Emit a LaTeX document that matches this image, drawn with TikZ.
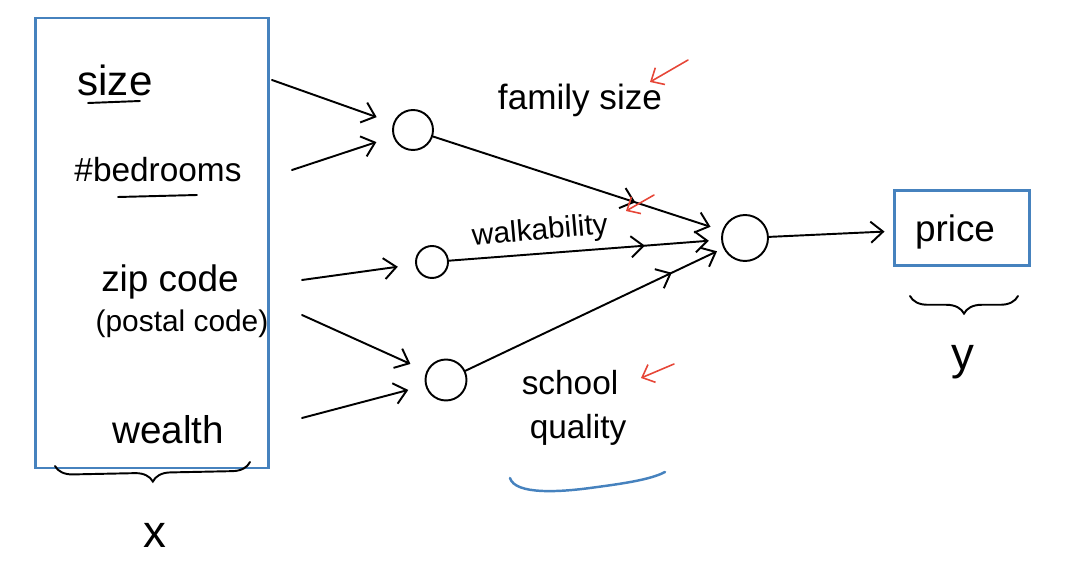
\documentclass[tikz,border=0pt]{standalone}
\usepackage{fontspec}
\setmainfont{Liberation Sans}
\usetikzlibrary{arrows.meta,decorations.pathreplacing,decorations.markings}
\definecolor{penblue}{RGB}{70,130,190}
\definecolor{penred}{RGB}{230,70,55}
\begin{document}
\begin{tikzpicture}[x=0.02cm, y=-0.02cm, line width=1.1pt, line cap=round,
    hand/.style={font=\fontsize{20}{24}\selectfont, inner sep=1pt},
    unit/.style={circle, draw, line width=1.1pt, inner sep=0pt},
    wire/.style={-{Straight Barb[length=7pt,width=12pt]}},
    midtip/.style={postaction={decorate}, decoration={markings,
        mark=at position #1 with {\arrow{Straight Barb[length=7pt,width=12pt]}}}},
    note/.style={penred, line width=0.9pt, -{Straight Barb[length=6pt,width=11pt]}},
    curly/.style={decorate, decoration={brace, mirror, amplitude=#1}},
    curly/.default=8pt]
    \useasboundingbox (0,0) rectangle (1082,577);

    % input features
    \node[draw=penblue, line width=1.4pt, minimum width=4.66cm, minimum height=9cm] (inputs) at (152,243) {};
    \node[hand, font=\fontsize{24}{28}\selectfont] (size) at (115,80) {size};
    \node[hand, font=\fontsize{19}{23}\selectfont] (bed) at (158,170) {\#bedrooms};
    \node[hand, font=\fontsize{21}{25}\selectfont] (zip) at (170,282) {zip code};
    \node[hand, font=\fontsize{17}{20}\selectfont] (postal) at (182,324) {(postal code)};
    \node[hand, font=\fontsize{22}{26}\selectfont] (wealth) at (168,430) {wealth};
    \draw (88,103) -- (140,101);
    \draw (118,197) -- (197,195);
    \draw[curly=10pt] (55,466) -- (250,462);
    \node[hand, font=\fontsize{26}{30}\selectfont] (xlab) at (155,535) {x};

    % hidden units
    \node[unit, minimum size=0.8cm] (h1) at (413,130) {};
    \node[unit, minimum size=0.64cm] (h2) at (432,262) {};
    \node[unit, minimum size=0.82cm] (h3) at (446,380) {};
    \node[unit, minimum size=0.92cm] (out) at (745,238) {};

    % output
    \node[draw=penblue, line width=1.4pt, minimum width=2.7cm, minimum height=1.5cm] (price) at (962,228) {};
    \node[hand, font=\fontsize{21}{25}\selectfont] (ptext) at (955,232) {price};
    \draw[curly=10pt] (910,296) -- (1018,296);
    \node[hand, font=\fontsize{26}{30}\selectfont] (ylab) at (963,362) {y};

    % arrows into the hidden units
    \coordinate (s1) at (272,80);
    \coordinate (s2) at (292,170);
    \coordinate (s3) at (302,280);
    \coordinate (s4) at (302,315);
    \coordinate (s5) at (302,418);
    \draw[wire, shorten >=10pt] (s1) -- (h1);
    \draw[wire, shorten >=10pt] (s2) -- (h1);
    \draw[wire, shorten >=10pt] (s3) -- (h2);
    \draw[wire, shorten >=10pt] (s4) -- (h3);
    \draw[wire, shorten >=10pt] (s5) -- (h3);

    % hidden units to output
    \draw[wire, midtip=0.7, shorten >=7pt] (h1) -- (out);
    \draw[wire, midtip=0.72, shorten >=7pt] (h2) -- (out);
    \draw[wire, midtip=0.8, shorten >=4pt] (h3) -- (out);
    \draw[wire, shorten >=5pt] (out) -- (price);

    % hidden unit labels
    \node[hand] (fam) at (580,100) {family size};
    \node[hand, font=\fontsize{17}{20}\selectfont, rotate=5] (walk) at (540,232) {walkability};
    \node[hand, font=\fontsize{19}{23}\selectfont] (school) at (570,383) {school};
    \node[hand, font=\fontsize{19}{23}\selectfont] (quality) at (578,430) {quality};
    \draw[penblue, line width=1.4pt] (510,478) .. controls (515,495) and (560,492) .. (590,488)
        .. controls (620,484) and (650,480) .. (665,472);

    % red marks
    \coordinate (r1a) at (688,60);
    \coordinate (r1b) at (650,82);
    \coordinate (r2a) at (654,195);
    \coordinate (r2b) at (626,211);
    \coordinate (r3a) at (674,364);
    \coordinate (r3b) at (641,378);
    \draw[note] (r1a) -- (r1b);
    \draw[note] (r2a) -- (r2b);
    \draw[note] (r3a) -- (r3b);
\end{tikzpicture}
\end{document}
